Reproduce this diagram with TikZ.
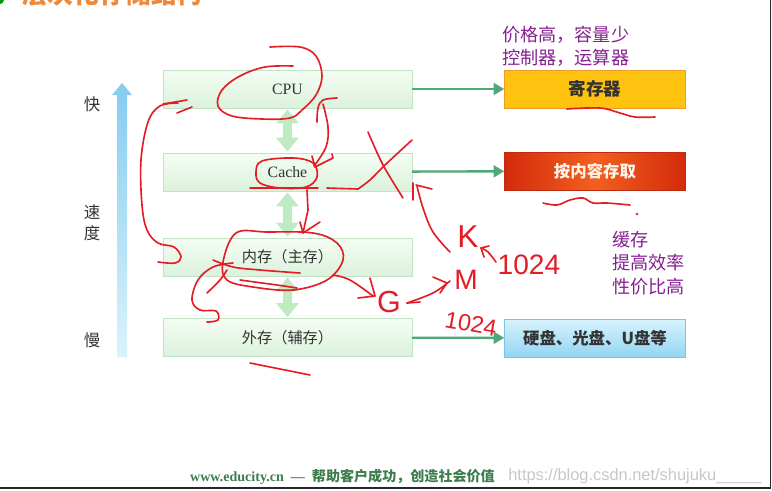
\documentclass[tikz,border=0pt]{standalone}
\usepackage{fontspec}
\setmainfont{Liberation Serif}
\setsansfont{Liberation Sans}
\newfontfamily\cjk{Noto Sans CJK SC}
\usetikzlibrary{arrows.meta,positioning,calc}
\definecolor{memtop}{HTML}{F5FDF4}
\definecolor{membot}{HTML}{DBF2DC}
\definecolor{memline}{HTML}{C3E2C6}
\definecolor{memtext}{HTML}{333333}
\definecolor{arrowgreen}{HTML}{4FA878}
\definecolor{dblgreen}{HTML}{BFEBC2}
\definecolor{regfill}{HTML}{FFC20E}
\definecolor{regline}{HTML}{EE9A2C}
\definecolor{redside}{HTML}{D32A0C}
\definecolor{redmid}{HTML}{F2601F}
\definecolor{redline}{HTML}{C02A0E}
\definecolor{disktop}{HTML}{D8F3FD}
\definecolor{diskbot}{HTML}{92D5F2}
\definecolor{diskline}{HTML}{7CC4E4}
\definecolor{speedtop}{HTML}{84CCF0}
\definecolor{speedbot}{HTML}{DAF3FB}
\definecolor{notepurple}{HTML}{85208F}
\definecolor{footgreen}{HTML}{3D7D4D}
\definecolor{titleorange}{HTML}{F0883A}
\definecolor{inkred}{HTML}{E31D25}

\begin{document}
\begin{tikzpicture}[x=0.03cm,y=-0.03cm,
        membox/.style={draw=memline,top color=memtop,bottom color=membot,
                       minimum width=7.47cm,minimum height=1.14cm,inner sep=0pt,
                       text=memtext,font=\cjk\fontsize{13}{15}\selectfont},
        sidebox/.style={minimum width=5.43cm,minimum height=1.14cm,inner sep=0pt,
                        font=\cjk\bfseries\fontsize{14}{16}\selectfont},
        feed/.style={draw=arrowgreen,line width=2pt,-{Triangle[length=9pt,width=10pt]}},
        swap/.style={draw=dblgreen,line width=8.5pt,
                     {Triangle[length=12pt,width=19pt]}-{Triangle[length=12pt,width=19pt]},
                     shorten <=1pt,shorten >=1pt},
        note/.style={text=notepurple,font=\cjk\fontsize{15.5}{18}\selectfont,anchor=west},
        speed/.style={text=memtext,font=\cjk\fontsize{14}{16}\selectfont},
        ink/.style={draw=inkred,line width=1.4pt,line cap=round,line join=round},
        inktext/.style={text=inkred,font=\sffamily}]
      \path[use as bounding box] (0,0) rectangle (772,490);
      \clip (0,0) rectangle (772,490);
      % title, cut by the top edge
      \fill[green!60!black] (0,0) circle (4);
      \node[anchor=west,text=titleorange,font=\cjk\bfseries\fontsize{22}{24}\selectfont]
        (title) at (18,-6) {层次化存储结构};
      % speed scale
      \shade[top color=speedtop,bottom color=speedbot]
        (117,357) -- (117,95) -- (112,95) -- (122,83) -- (132,95) -- (127,95) -- (127,357) -- cycle;
      \node[speed] (fast) at (92,104) {快};
      \node[speed] (mid1) at (92,212) {速};
      \node[speed] (mid2) at (92,233) {度};
      \node[speed] (slow) at (92,340) {慢};
      % storage levels
      \node[membox] (cpu) at (287.5,89) {\rmfamily\fontsize{13.5}{15}\selectfont CPU};
      \node[membox] (cache) at (287.5,172) {\rmfamily\fontsize{13.5}{15}\selectfont Cache};
      \node[membox] (mem) at (287.5,257) {内存（主存）};
      \node[membox] (ext) at (287.5,337.5) {外存（辅存）};
      \draw[swap] (cpu) -- (cache);
      \draw[swap] (cache) -- (mem);
      \draw[swap] (mem) -- (ext);
      % right column
      \node[sidebox,draw=regline,fill=regfill,text=black!80,
            font=\cjk\bfseries\fontsize{15}{17}\selectfont] (reg) at (595,89) {寄存器};
      \node[sidebox,draw=redline,left color=redside,right color=redside,middle color=redmid,
            text=white!92!orange] (cam) at (595,171) {按内容存取};
      \node[sidebox,draw=diskline,top color=disktop,bottom color=diskbot,
            text=black!80] (disk) at (595,338) {硬盘、光盘、U盘等};
      \draw[feed] (cpu) -- (reg);
      \draw[feed] (cache) -- (cam);
      \draw[feed] (ext) -- (disk);
      % notes
      \node[note] (n1) at (498,35) {价格高，容量少};
      \node[note] (n2) at (498,58) {控制器，运算器};
      \node[note] (n3) at (608,240) {缓存};
      \node[note] (n4) at (608,263) {提高效率};
      \node[note] (n5) at (608,287) {性价比高};
      % footer
      \node[text=footgreen,font=\bfseries\fontsize{12}{14}\selectfont,anchor=west] (foot) at (186,477)
        {www.educity.cn \ —\ \ {\cjk 帮助客户成功，创造社会价值}};
      \node[text=black!22,font=\sffamily\fontsize{14}{16}\selectfont,anchor=east] (mark) at (766,476)
        {https://blog.csdn.net/shujuku\_\_\_\_\_};
      % frame
      \draw[black!85,line width=1.6pt] (770.5,0) -- (770.5,488) -- (0,488);
      % red handwriting
      \draw[ink] plot[smooth,tension=0.6] coordinates {(270,47) (300,47) (316,56) (322,76)
        (316,95) (302,110) (290,118) (262,119) (232,116) (218,106) (222,90) (240,76) (265,67) (293,66)};
      \draw[ink] plot[smooth,tension=0.6] coordinates {(178,103) (160,106) (148,122) (141,160)
        (142,205) (147,230) (158,243) (174,247) (181,257) (175,263) (158,262)};
      \draw[ink] (163,104) -- (187,100) (177,113) -- (192,107);
      \draw[ink] plot[smooth,tension=0.6] coordinates {(337,98) (323,100) (318,108) (317,122)};
      \draw[ink] plot[smooth,tension=0.6] coordinates {(323,104) (328,127) (326,147) (314,166)};
      \draw[ink] (312,156) -- (315,167) -- (333,158) -- (332,154);
      \draw[ink] plot[smooth cycle,tension=0.6] coordinates {(262,161) (293,158) (313,163)
        (317,177) (306,187) (280,188) (260,183) (256,172)};
      \draw[ink] (250,188) -- (318,188) (327,188) -- (358,189);
      \draw[ink] plot[smooth,tension=0.5] coordinates {(358,189) (370,180) (385,165) (412,140)};
      \draw[ink] plot[smooth,tension=0.5] coordinates {(368,132) (383,165) (403,198)};
      \draw[ink] (307,190) -- (308,210) -- (303,233);
      \draw[ink] (300,222) -- (303,233) -- (320,222);
      \draw[ink] plot[smooth cycle,tension=0.6] coordinates {(236,233) (267,232) (313,233)
        (337,243) (343,260) (327,280) (293,290) (253,287) (227,280) (223,262)};
      \draw[ink] plot[smooth,tension=0.6] coordinates {(213,260) (233,267) (260,270) (300,273)};
      \draw[ink] plot[smooth,tension=0.6] coordinates {(240,280) (277,285) (297,288)};
      \draw[ink] plot[smooth,tension=0.6] coordinates {(233,263) (213,267) (198,280) (192,300)
        (200,310) (216,311) (218,320) (207,322)};
      \draw[ink] plot[smooth,tension=0.6] coordinates {(207,293) (220,280) (227,270)};
      \draw[ink] plot[smooth,tension=0.6] coordinates {(333,275) (350,280) (373,296)};
      \draw[ink] (370,278) -- (375,296) -- (358,298);
      \draw[ink] (250,363) -- (310,375);
      \draw[ink] plot[smooth,tension=0.6] coordinates {(567,109) (600,108) (620,113) (635,117) (655,117)};
      \draw[ink] plot[smooth,tension=0.6] coordinates {(543,203) (557,205) (570,200) (583,198)
        (593,203) (607,203) (630,205)};
      \fill[inkred] (637,214) circle (1.3);
      \draw[ink] plot[smooth,tension=0.6] coordinates {(450,252) (433,232) (423,208) (417,186)};
      \draw[ink] (413,183) -- (413,200) (416,185) -- (432,189);
      \draw[ink] plot[smooth,tension=0.6] coordinates {(407,303) (433,293) (450,281)};
      \draw[ink] (433,277) -- (447,283) -- (440,293);
      \draw[ink] (420,302) -- (407,303);
      \draw[ink] plot[smooth,tension=0.6] coordinates {(496,262) (488,252) (481,248)};
      \draw[ink] (489,246) -- (481,248) -- (484,257);
      \node[inktext,font=\sffamily\fontsize{27}{27}\selectfont] (kilo) at (468,237) {K};
      \node[inktext,font=\sffamily\fontsize{24}{24}\selectfont] (kval) at (529,265) {1024};
      \node[inktext,font=\sffamily\fontsize{24}{24}\selectfont] (mega) at (466,280) {M};
      \node[inktext,font=\sffamily\fontsize{26}{26}\selectfont] (giga) at (389,302) {G};
      \node[inktext,font=\sffamily\fontsize{20}{20}\selectfont,rotate=-10,inner sep=0pt] (gval) at (471,324) {1024};
    \end{tikzpicture}
\end{document}
